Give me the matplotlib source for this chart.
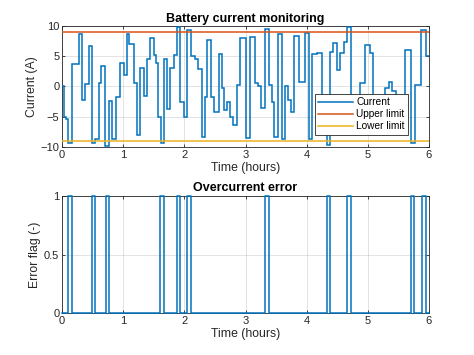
import numpy as np
import matplotlib.pyplot as plt

# step breakpoints (hours) and current level held over each interval (A)
t_edges = [0.000, 0.033, 0.065, 0.098, 0.160, 0.272, 0.327, 0.370, 0.436, 0.490,
           0.545, 0.600, 0.643, 0.705, 0.775, 0.817, 0.888, 0.942, 1.020, 1.060,
           1.100, 1.170, 1.225, 1.280, 1.334, 1.390, 1.440, 1.500, 1.540, 1.570,
           1.610, 1.660, 1.715, 1.770, 1.825, 1.880, 1.930, 1.990, 2.040, 2.110,
           2.170, 2.230, 2.280, 2.330, 2.370, 2.440, 2.480, 2.570, 2.610, 2.640,
           2.690, 2.740, 2.800, 2.860, 2.910, 3.010, 3.070, 3.150, 3.200, 3.250,
           3.315, 3.385, 3.430, 3.470, 3.530, 3.600, 3.640, 3.690, 3.740, 3.800,
           3.880, 3.970, 4.040, 4.090, 4.170, 4.250, 4.325, 4.380, 4.430, 4.490,
           4.540, 4.610, 4.655, 4.720, 4.800, 4.880, 4.950, 5.030, 5.080, 5.180,
           5.280, 5.340, 5.400, 5.460, 5.550, 5.600, 5.710, 5.765, 5.875, 5.945,
           6.000]
current = [0.0, -5.0, -5.4, -9.3, 3.7, 8.7, -2.3, 0.4, 6.6, -9.3,
           -8.7, 0.5, 3.3, -9.8, -2.4, -8.7, -1.7, 3.8, 1.9, 8.6,
           7.0, 0.5, -8.0, 3.0, -1.6, 4.6, 8.0, 5.2, 3.8, -5.1,
           -9.3, 4.6, -3.7, 3.0, 5.2, 9.8, -2.5, -5.1, 9.4, 5.0,
           4.5, 2.8, -8.4, -1.8, 7.6, -1.8, -4.3, 5.3, -0.3, -3.9,
           -2.5, -5.0, -6.3, 0.3, 8.0, -8.6, 8.2, 0.6, 0.1, -3.6,
           9.5, 0.2, -2.5, -8.4, 8.7, -8.7, 0.0, -2.3, -4.2, 8.3,
           0.8, 8.8, -8.7, 5.3, 5.6, -5.5, -9.6, 5.7, 7.2, 2.7,
           5.5, 7.4, 9.9, -4.0, -6.5, 0.5, 6.9, 5.6, -5.0, -2.5,
           -0.3, 0.8, -0.7, -6.0, -3.0, 6.0, -9.4, 0.3, 9.3, 5.0]

upper_limit = 9
lower_limit = -9

# overcurrent error intervals (hours)
err_on = [0.095, 0.49, 0.71, 1.60, 1.875, 2.04, 3.32, 4.33, 4.66, 5.71, 5.88]
err_off = [0.16, 0.54, 0.77, 1.66, 1.93, 2.11, 3.39, 4.38, 4.72, 5.76, 5.95]

t_end = 6

plt.rcParams.update({
    "font.family": ["Liberation Sans", "DejaVu Sans"],
    "font.size": 8,
    "axes.edgecolor": "#262626",
    "axes.linewidth": 0.6,
    "xtick.color": "#262626",
    "ytick.color": "#262626",
    "xtick.direction": "in",
    "ytick.direction": "in",
    "xtick.major.size": 2.5,
    "ytick.major.size": 2.5,
    "xtick.major.width": 0.6,
    "ytick.major.width": 0.6,
    "xtick.top": True,
    "ytick.right": True,
})

c_blue = "#0072BD"
c_orange = "#D95319"
c_yellow = "#EDB120"
lw = 1.1

fig = plt.figure(figsize=(4.74, 3.55), dpi=100)
ax1 = fig.add_axes([0.131, 0.586, 0.774, 0.341])
ax2 = fig.add_axes([0.131, 0.117, 0.774, 0.332])

# -----------------------------
# Current with limits
# -----------------------------
ax1.stairs(current, t_edges, baseline=None, color=c_blue, linewidth=lw,
           label="Current", zorder=3)
ax1.plot([0, t_end], [upper_limit, upper_limit], color=c_orange, linewidth=lw,
         label="Upper limit", zorder=3)
ax1.plot([0, t_end], [lower_limit, lower_limit], color=c_yellow, linewidth=lw,
         label="Lower limit", zorder=3)
ax1.set_xlim(0, t_end)
ax1.set_ylim(-10, 10)
ax1.set_yticks([-10, -5, 0, 5, 10])
ax1.set_xticks(range(0, 7))
ax1.set_title("Battery current monitoring", fontsize=9, fontweight="bold",
              pad=3, color="black")
ax1.set_xlabel("Time (hours)", fontsize=8.8, labelpad=1.5, color="#262626")
ax1.set_ylabel("Current (A)", fontsize=8.8, labelpad=2, color="#262626")
leg = ax1.legend(loc="lower right", bbox_to_anchor=(0.944, 0.099),
                 fontsize=7.3, frameon=True, fancybox=False, framealpha=1,
                 edgecolor="#262626", borderpad=0.35, labelspacing=0.2,
                 handlelength=3.4, handletextpad=0.35, borderaxespad=0)
leg.get_frame().set_linewidth(0.6)

# -----------------------------
# Error flag
# -----------------------------
flag_t = [0]
flag_v = [0]
for on, off in zip(err_on, err_off):
    flag_t += [on, on, off, off]
    flag_v += [0, 1, 1, 0]
flag_t.append(t_end)
flag_v.append(0)
ax2.plot(flag_t, flag_v, color=c_blue, linewidth=lw, clip_on=False, zorder=3)
ax2.set_xlim(0, t_end)
ax2.set_ylim(0, 1)
ax2.set_yticks([0, 0.5, 1])
ax2.set_yticklabels(["0", "0.5", "1"])
ax2.set_xticks(range(0, 7))
ax2.set_title("Overcurrent error", fontsize=9, fontweight="bold", pad=3,
              color="black")
ax2.set_xlabel("Time (hours)", fontsize=8.8, labelpad=1.5, color="#262626")
ax2.set_ylabel("Error flag (-)", fontsize=8.8, labelpad=2, color="#262626")

for ax in (ax1, ax2):
    ax.grid(True, color="#262626", alpha=0.15, linewidth=0.6)
    ax.set_axisbelow(True)
    ax.tick_params(labelsize=8, pad=2)

fig.savefig("out.png", dpi=100)
